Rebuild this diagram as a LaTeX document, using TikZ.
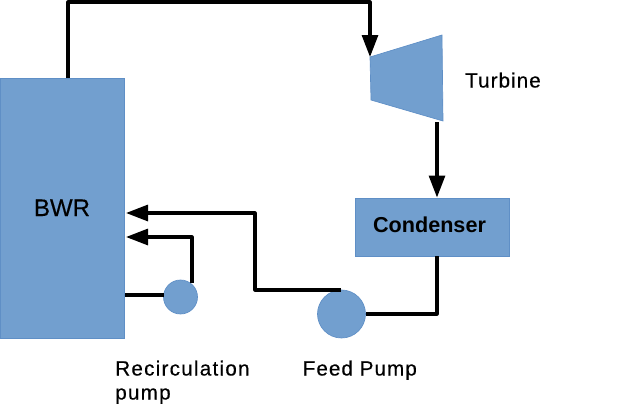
\documentclass[tikz,border=0pt]{standalone}
\usepackage{fontspec}
\setmainfont{Liberation Sans}
\usetikzlibrary{arrows.meta}
\definecolor{fillblue}{HTML}{729FCF}
\definecolor{edgeblue}{HTML}{5F8FC6}
\tikzset{
  x=0.75pt,y=-0.75pt,
  block/.style={draw=edgeblue,fill=fillblue,line width=0.5pt,inner sep=0pt,minimum width=#1},
  pump/.style={circle,draw=edgeblue,fill=fillblue,line width=0.5pt,inner sep=0pt,minimum size=#1},
  pipe/.style={draw=black,line width=2.3pt,line cap=butt,line join=round},
  flow/.style={pipe,-{Triangle[length=16.5pt,width=12pt]}},
  lbl/.style={font=\fontsize{15.5}{18}\selectfont,text=black,inner sep=0pt,align=left},
}
\begin{document}
\begin{tikzpicture}
\useasboundingbox (0,0) rectangle (624,414);
\node[block=93.4pt,minimum height=195pt] (bwr) at (62.3,208) {};
\node[block=115.5pt,minimum height=43.5pt] (cond) at (432,227) {};
\node[pump=36pt] (feed) at (341.5,314) {};
\node[pump=25.5pt] (recirc) at (180.5,297) {};
\coordinate (t1) at (370,57);
\coordinate (t2) at (442,35);
\coordinate (t3) at (443,121);
\coordinate (t4) at (371,100);
\filldraw[draw=edgeblue,fill=fillblue,line width=0.5pt] (t1)--(t2)--(t3)--(t4)--cycle;
% connectors
\coordinate (bwrtop) at (68,78);
\draw[flow] (bwrtop) -- (68,2) -- (370,2) -- (t1);
\coordinate (tout) at (437,122);
\coordinate (cin) at (437,197.5);
\draw[flow] (tout) -- (cin);
\coordinate (cout) at (437,256);
\coordinate (fr) at (365.5,314);
\draw[pipe] (cout) -- (437,314) -- (fr);
\coordinate (ft) at (341,290);
\coordinate (bwrin1) at (126,213);
\draw[flow] (ft) -- (255,290) -- (255,213) -- (bwrin1);
\coordinate (rt) at (192,283);
\coordinate (bwrin2) at (126,237);
\draw[flow] (rt) -- (192,237) -- (bwrin2);
\coordinate (bwrout) at (125,295);
\coordinate (rl) at (164,295);
\draw[pipe] (bwrout) -- (rl);
% labels
\node[lbl,font=\fontsize{18}{20}\selectfont,anchor=base] (lb) at (62,216) {\addfontfeature{FakeBold=0.3}BWR};
\node[lbl,anchor=base west] (lt) at (465,87.5) {\addfontfeature{LetterSpace=5,FakeBold=0.4}Turbine};
\node[lbl,anchor=base,font=\fontsize{16.2}{18}\bfseries\selectfont] (lc) at (429.5,232) {Condenser};
\node[lbl,anchor=base west] (lf) at (302.5,375.5) {\addfontfeature{LetterSpace=5,FakeBold=0.4}Feed Pump};
\node[lbl,anchor=base west] (lr) at (115,375.5) {\addfontfeature{LetterSpace=6,FakeBold=0.4}Recirculation};
\node[lbl,anchor=base west] (lp) at (115,399.5) {\addfontfeature{LetterSpace=6,FakeBold=0.4}pump};
\end{tikzpicture}
\end{document}
